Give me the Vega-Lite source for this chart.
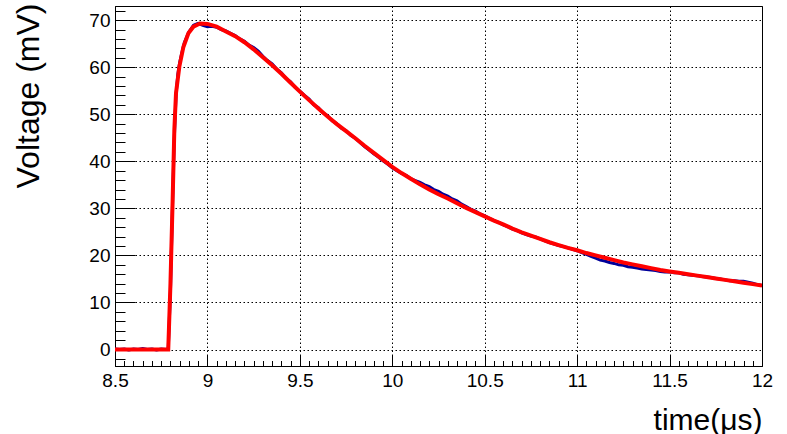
{
  "$schema": "https://vega.github.io/schema/vega-lite/v6.json",
  "width": 647,
  "height": 360,
  "autosize": "none",
  "padding": {"left": 115, "top": 6, "right": 25, "bottom": 68},
  "background": "white",
  "config": {
    "font": "Liberation Sans",
    "view": {"stroke": "black", "strokeWidth": 1},
    "axis": {"domainColor": "black", "tickColor": "black", "labelColor": "black", "titleColor": "black", "titleFontWeight": "normal"}
  },
  "datasets": {
    "sig": [
      {"t": 8.5, "v": 0.1}, {"t": 8.525, "v": 0.0}, {"t": 8.55, "v": 0.1}, {"t": 8.575, "v": -0.1}, {"t": 8.6, "v": 0.1},
      {"t": 8.625, "v": 0.0}, {"t": 8.65, "v": 0.2}, {"t": 8.675, "v": 0.0}, {"t": 8.7, "v": 0.1}, {"t": 8.725, "v": -0.1},
      {"t": 8.75, "v": 0.1}, {"t": 8.775, "v": 0.0}, {"t": 8.788, "v": 0.1}, {"t": 8.8, "v": 12.5}, {"t": 8.81, "v": 29},
      {"t": 8.82, "v": 44}, {"t": 8.83, "v": 54}, {"t": 8.84, "v": 58.5}, {"t": 8.85, "v": 61}, {"t": 8.86, "v": 62.8},
      {"t": 8.875, "v": 65.2}, {"t": 8.89, "v": 66.6}, {"t": 8.9, "v": 67.5}, {"t": 8.925, "v": 68.9}, {"t": 8.95, "v": 69.3},
      {"t": 8.975, "v": 68.9}, {"t": 9.0, "v": 68.6}, {"t": 9.025, "v": 68.7}, {"t": 9.05, "v": 68.5}, {"t": 9.075, "v": 68.0},
      {"t": 9.1, "v": 67.7}, {"t": 9.125, "v": 67.2}, {"t": 9.15, "v": 66.7}, {"t": 9.175, "v": 66.0}, {"t": 9.2, "v": 65.5},
      {"t": 9.225, "v": 64.7}, {"t": 9.25, "v": 64.2}, {"t": 9.275, "v": 63.4}, {"t": 9.3, "v": 62.3}, {"t": 9.325, "v": 61.4},
      {"t": 9.35, "v": 60.7}, {"t": 9.375, "v": 59.6}, {"t": 9.4, "v": 58.8}, {"t": 9.425, "v": 57.6}, {"t": 9.45, "v": 56.9},
      {"t": 9.475, "v": 55.7}, {"t": 9.5, "v": 54.9}, {"t": 9.525, "v": 54.0}, {"t": 9.55, "v": 53.2}, {"t": 9.575, "v": 52.0},
      {"t": 9.6, "v": 51.4}, {"t": 9.625, "v": 50.3}, {"t": 9.65, "v": 49.7}, {"t": 9.675, "v": 48.6}, {"t": 9.7, "v": 48.0},
      {"t": 9.725, "v": 47.0}, {"t": 9.75, "v": 46.5}, {"t": 9.775, "v": 45.5}, {"t": 9.8, "v": 44.9}, {"t": 9.825, "v": 44.0},
      {"t": 9.85, "v": 43.1}, {"t": 9.875, "v": 42.4}, {"t": 9.9, "v": 41.6}, {"t": 9.925, "v": 40.9}, {"t": 9.95, "v": 40.1},
      {"t": 9.975, "v": 39.4}, {"t": 10.0, "v": 38.6}, {"t": 10.025, "v": 38.0}, {"t": 10.05, "v": 37.4}, {"t": 10.075, "v": 37.0},
      {"t": 10.1, "v": 36.3}, {"t": 10.125, "v": 35.9}, {"t": 10.15, "v": 35.5}, {"t": 10.175, "v": 35.0}, {"t": 10.2, "v": 34.6},
      {"t": 10.225, "v": 34.0}, {"t": 10.25, "v": 33.6}, {"t": 10.275, "v": 33.0}, {"t": 10.3, "v": 32.6}, {"t": 10.325, "v": 32.0},
      {"t": 10.35, "v": 31.6}, {"t": 10.375, "v": 30.9}, {"t": 10.4, "v": 30.4}, {"t": 10.425, "v": 29.8}, {"t": 10.45, "v": 29.4},
      {"t": 10.475, "v": 28.8}, {"t": 10.5, "v": 28.4}, {"t": 10.525, "v": 27.9}, {"t": 10.55, "v": 27.4}, {"t": 10.575, "v": 27.0},
      {"t": 10.6, "v": 26.5}, {"t": 10.625, "v": 26.1}, {"t": 10.65, "v": 25.6}, {"t": 10.675, "v": 25.3}, {"t": 10.7, "v": 24.8},
      {"t": 10.725, "v": 24.4}, {"t": 10.75, "v": 24.1}, {"t": 10.775, "v": 23.9}, {"t": 10.8, "v": 23.5}, {"t": 10.825, "v": 23.1},
      {"t": 10.85, "v": 22.7}, {"t": 10.875, "v": 22.4}, {"t": 10.9, "v": 22.1}, {"t": 10.925, "v": 21.9}, {"t": 10.95, "v": 21.6},
      {"t": 10.975, "v": 21.3}, {"t": 11.0, "v": 21.0}, {"t": 11.025, "v": 20.6}, {"t": 11.05, "v": 20.2}, {"t": 11.075, "v": 19.8},
      {"t": 11.1, "v": 19.4}, {"t": 11.125, "v": 19.0}, {"t": 11.15, "v": 18.8}, {"t": 11.175, "v": 18.5}, {"t": 11.2, "v": 18.3},
      {"t": 11.225, "v": 18.0}, {"t": 11.25, "v": 17.9}, {"t": 11.275, "v": 17.6}, {"t": 11.3, "v": 17.5}, {"t": 11.325, "v": 17.3},
      {"t": 11.35, "v": 17.1}, {"t": 11.375, "v": 17.0}, {"t": 11.4, "v": 16.9}, {"t": 11.425, "v": 16.8}, {"t": 11.45, "v": 16.6},
      {"t": 11.475, "v": 16.5}, {"t": 11.5, "v": 16.5}, {"t": 11.525, "v": 16.3}, {"t": 11.55, "v": 16.3}, {"t": 11.575, "v": 16.0},
      {"t": 11.6, "v": 15.9}, {"t": 11.625, "v": 15.8}, {"t": 11.65, "v": 15.7}, {"t": 11.675, "v": 15.5}, {"t": 11.7, "v": 15.4},
      {"t": 11.725, "v": 15.3}, {"t": 11.75, "v": 15.1}, {"t": 11.775, "v": 15.0}, {"t": 11.8, "v": 14.8}, {"t": 11.825, "v": 14.6},
      {"t": 11.85, "v": 14.6}, {"t": 11.875, "v": 14.5}, {"t": 11.9, "v": 14.5}, {"t": 11.925, "v": 14.3}, {"t": 11.95, "v": 14.1},
      {"t": 11.975, "v": 13.8}, {"t": 12.0, "v": 13.6}
    ],
    "fit": [
      {"t": 8.5, "v": 0}, {"t": 8.788, "v": 0}, {"t": 8.8, "v": 14}, {"t": 8.812, "v": 32}, {"t": 8.821, "v": 46.7},
      {"t": 8.83, "v": 54.5}, {"t": 8.848, "v": 60.1}, {"t": 8.87, "v": 64.3}, {"t": 8.897, "v": 67.2}, {"t": 8.924, "v": 68.6},
      {"t": 8.96, "v": 69.3}, {"t": 9.0, "v": 69.2}, {"t": 9.05, "v": 68.6}, {"t": 9.1, "v": 67.6}, {"t": 9.15, "v": 66.6},
      {"t": 9.2, "v": 65.3}, {"t": 9.25, "v": 63.8}, {"t": 9.3, "v": 62.1}, {"t": 9.35, "v": 60.4}, {"t": 9.4, "v": 58.6},
      {"t": 9.45, "v": 56.7}, {"t": 9.5, "v": 54.8}, {"t": 9.55, "v": 53.0}, {"t": 9.6, "v": 51.2}, {"t": 9.65, "v": 49.5},
      {"t": 9.7, "v": 47.9}, {"t": 9.75, "v": 46.4}, {"t": 9.8, "v": 44.9}, {"t": 9.85, "v": 43.3}, {"t": 9.9, "v": 41.8},
      {"t": 9.95, "v": 40.3}, {"t": 10.0, "v": 38.8}, {"t": 10.05, "v": 37.5}, {"t": 10.1, "v": 36.3}, {"t": 10.15, "v": 35.1},
      {"t": 10.2, "v": 34.0}, {"t": 10.25, "v": 33.0}, {"t": 10.3, "v": 32.1}, {"t": 10.35, "v": 31.1}, {"t": 10.4, "v": 30.1},
      {"t": 10.45, "v": 29.2}, {"t": 10.5, "v": 28.3}, {"t": 10.55, "v": 27.4}, {"t": 10.6, "v": 26.6}, {"t": 10.65, "v": 25.7},
      {"t": 10.7, "v": 24.9}, {"t": 10.75, "v": 24.2}, {"t": 10.8, "v": 23.5}, {"t": 10.85, "v": 22.8}, {"t": 10.9, "v": 22.2},
      {"t": 10.95, "v": 21.6}, {"t": 11.0, "v": 21.1}, {"t": 11.05, "v": 20.5}, {"t": 11.1, "v": 20.0}, {"t": 11.15, "v": 19.5},
      {"t": 11.2, "v": 19.0}, {"t": 11.25, "v": 18.5}, {"t": 11.3, "v": 18.1}, {"t": 11.35, "v": 17.7}, {"t": 11.4, "v": 17.3},
      {"t": 11.45, "v": 16.9}, {"t": 11.5, "v": 16.6}, {"t": 11.55, "v": 16.3}, {"t": 11.6, "v": 16.0}, {"t": 11.65, "v": 15.7},
      {"t": 11.7, "v": 15.4}, {"t": 11.75, "v": 15.1}, {"t": 11.8, "v": 14.8}, {"t": 11.85, "v": 14.5}, {"t": 11.9, "v": 14.2},
      {"t": 11.95, "v": 13.9}, {"t": 12.0, "v": 13.6}
    ]
  },
  "encoding": {
    "x": {
      "field": "t", "type": "quantitative",
      "scale": {"domain": [8.5, 12], "nice": false, "zero": false},
      "axis": {
        "orient": "bottom",
        "values": [8.5, 8.55, 8.6, 8.65, 8.7, 8.75, 8.8, 8.85, 8.9, 8.95, 9, 9.05, 9.1, 9.15, 9.2, 9.25, 9.3, 9.35, 9.4, 9.45, 9.5, 9.55, 9.6, 9.65, 9.7, 9.75, 9.8, 9.85, 9.9, 9.95, 10, 10.05, 10.1, 10.15, 10.2, 10.25, 10.3, 10.35, 10.4, 10.45, 10.5, 10.55, 10.6, 10.65, 10.7, 10.75, 10.8, 10.85, 10.9, 10.95, 11, 11.05, 11.1, 11.15, 11.2, 11.25, 11.3, 11.35, 11.4, 11.45, 11.5, 11.55, 11.6, 11.65, 11.7, 11.75, 11.8, 11.85, 11.9, 11.95, 12],
        "labelExpr": "abs(datum.value * 2 - round(datum.value * 2)) < 0.001 ? '' + datum.value : ''",
        "tickSize": {"condition": {"test": "abs(datum.value * 2 - round(datum.value * 2)) < 0.001", "value": -11}, "value": -5.5},
        "labelPadding": 16, "labelFontSize": 19, "labelFlush": false, "labelOverlap": false,
        "grid": true, "gridColor": "black", "gridDash": [1.5, 2.5], "gridWidth": 1,
        "gridOpacity": {"condition": {"test": "abs(datum.value * 2 - round(datum.value * 2)) < 0.001", "value": 1}, "value": 0},
        "title": "time(μs)", "titleFontSize": 30, "titleAnchor": "end", "titleAlign": "right",
        "titleBaseline": "alphabetic", "titleX": 647, "titleY": 63
      }
    },
    "y": {
      "field": "v", "type": "quantitative",
      "scale": {"domain": [-3.5, 73], "nice": false, "zero": false},
      "axis": {
        "orient": "left",
        "values": [-2, 0, 2, 4, 6, 8, 10, 12, 14, 16, 18, 20, 22, 24, 26, 28, 30, 32, 34, 36, 38, 40, 42, 44, 46, 48, 50, 52, 54, 56, 58, 60, 62, 64, 66, 68, 70, 72],
        "labelExpr": "datum.value % 10 === 0 ? '' + datum.value : ''",
        "tickSize": {"condition": {"test": "datum.value % 10 === 0", "value": -20}, "value": -10},
        "labelPadding": 25, "labelFontSize": 19, "labelOverlap": false,
        "grid": true, "gridColor": "black", "gridDash": [1.5, 2.5], "gridWidth": 1,
        "gridOpacity": {"condition": {"test": "datum.value % 10 === 0", "value": 1}, "value": 0},
        "title": "Voltage (mV)", "titleFontSize": 32, "titleAngle": -90, "titleAlign": "right",
        "titleBaseline": "alphabetic", "titleX": -77, "titleY": -3
      }
    }
  },
  "layer": [
    {
      "data": {"name": "sig"},
      "mark": {"type": "line", "color": "#000099", "strokeWidth": 3, "clip": true}
    },
    {
      "data": {"name": "fit"},
      "mark": {"type": "line", "color": "#ff0000", "strokeWidth": 4, "clip": true}
    }
  ]
}
